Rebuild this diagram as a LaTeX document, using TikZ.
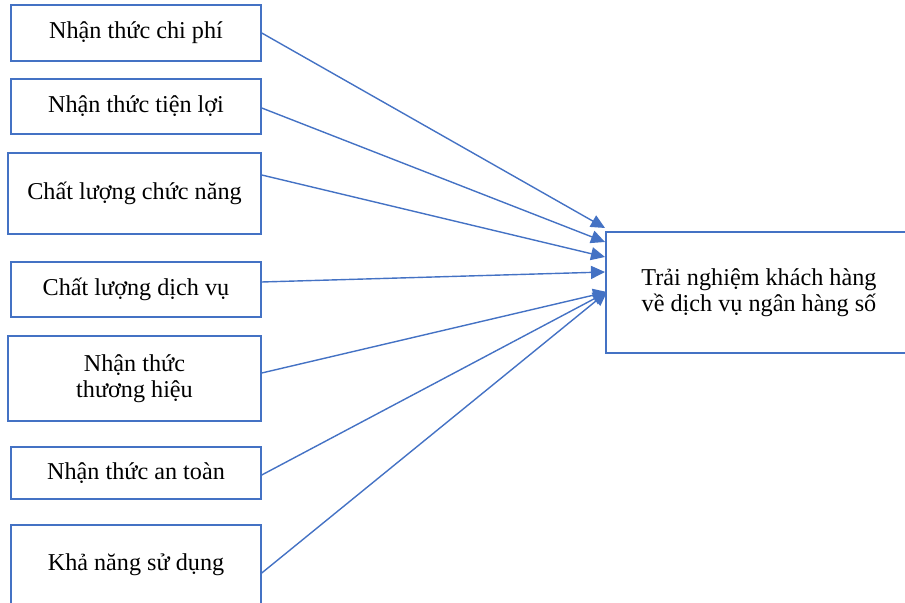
\documentclass[tikz,border=0pt]{standalone}
\usepackage{fontspec}
\setmainfont{Liberation Serif}
\usetikzlibrary{arrows.meta}
\definecolor{Frame}{HTML}{4472C4}

\begin{document}
\begin{tikzpicture}[x=0.5pt,y=-0.5pt,
    b/.style={draw=Frame,line width=0.75pt,align=center,inner sep=0pt,font=\fontsize{12.1}{13.2}\selectfont},
    a/.style={-{Triangle[length=7pt,width=6.5pt]},line width=0.7pt,draw=Frame}]
    \clip (0,0) rectangle (905,603);
    \node[b,minimum width=125pt,minimum height=28pt] (chiphi) at (136,33) {Nhận thức chi phí};
    \node[b,minimum width=125pt,minimum height=27.5pt] (tienloi) at (136,106.5) {Nhận thức tiện lợi};
    \node[b,minimum width=126.5pt,minimum height=40.5pt] (chucnang) at (134.5,193.5) {Chất lượng chức năng};
    \node[b,minimum width=125pt,minimum height=27.5pt] (dichvu) at (136,289.5) {Chất lượng dịch vụ};
    \node[b,minimum width=126.5pt,minimum height=42.5pt] (thuonghieu) at (134.5,378.5) {Nhận thức\\thương hiệu};
    \node[b,minimum width=125pt,minimum height=26pt] (antoan) at (136,473) {Nhận thức an toàn};
    \node[b,minimum width=125pt,minimum height=40pt] (sudung) at (136,565) {Khả năng sử dụng};
    \node[b,minimum width=153pt,minimum height=60.5pt] (trainghiem) at (759,292.5) {Trải nghiệm khách hàng\\về dịch vụ ngân hàng số};
    % arrow tips on the left side of the outcome box
    \coordinate (t1) at (605,228);
    \coordinate (t2) at (605,242);
    \coordinate (t3) at (605,257);
    \coordinate (t4) at (605,272);
    \coordinate (t5) at (607,292);
    \draw[a] (chiphi.east) -- (t1);
    \draw[a] ([yshift=-0.75pt]tienloi.east) -- (t2);
    \draw[a] ([yshift=9.25pt]chucnang.east) -- (t3);
    \draw[a] ([yshift=3.75pt]dichvu.east) -- (t4);
    \draw[a] ([yshift=2.75pt]thuonghieu.east) -- (t5);
    \draw[a] ([yshift=-1pt]antoan.east) -- (t5);
    \draw[a] ([yshift=-4pt]sudung.east) -- (t5);
  \end{tikzpicture}
\end{document}
